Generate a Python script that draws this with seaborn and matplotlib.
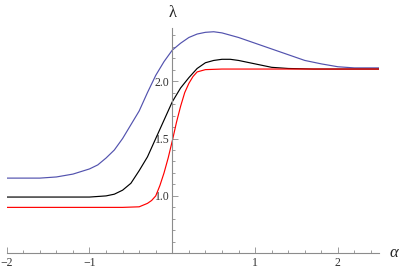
import numpy as np
import pandas as pd
import matplotlib
matplotlib.use('Agg')
import matplotlib.pyplot as plt
from matplotlib.ticker import MultipleLocator, FixedLocator
import seaborn as sns

# values
alpha_red = [-2.0, -0.6, -0.4, -0.3, -0.25, -0.2, -0.15, -0.1, -0.05, 0.0, 0.05,
             0.1, 0.15, 0.2, 0.25, 0.3, 0.4, 0.6, 1.0, 2.5]
lam_red = [0.90, 0.90, 0.905, 0.935, 0.96, 1.00, 1.09, 1.20, 1.33, 1.48, 1.64,
           1.78, 1.90, 1.98, 2.04, 2.08, 2.10, 2.105, 2.105, 2.105]

alpha_black = [-2.0, -1.0, -0.8, -0.7, -0.6, -0.5, -0.4, -0.3, -0.2, -0.1, 0.0,
               0.1, 0.2, 0.3, 0.4, 0.5, 0.6, 0.7, 0.8, 0.9, 1.0, 1.1, 1.2, 1.4,
               1.7, 2.5]
lam_black = [0.99, 0.99, 1.00, 1.015, 1.05, 1.11, 1.22, 1.34, 1.50, 1.66, 1.82,
             1.94, 2.03, 2.11, 2.16, 2.18, 2.19, 2.19, 2.18, 2.165, 2.15, 2.135,
             2.12, 2.11, 2.105, 2.105]

alpha_blue = [-2.0, -1.6, -1.4, -1.2, -1.0, -0.9, -0.8, -0.7, -0.6, -0.5, -0.4,
              -0.3, -0.2, -0.1, 0.0, 0.1, 0.2, 0.3, 0.4, 0.5, 0.6, 0.8, 1.0, 1.2,
              1.4, 1.6, 1.8, 2.0, 2.2, 2.5]
lam_blue = [1.155, 1.155, 1.165, 1.19, 1.235, 1.27, 1.33, 1.40, 1.50, 1.62, 1.74,
            1.90, 2.05, 2.17, 2.27, 2.33, 2.38, 2.41, 2.425, 2.43, 2.42, 2.38,
            2.33, 2.28, 2.23, 2.18, 2.15, 2.125, 2.115, 2.115]

x_ticks = [-2, -1, 1, 2]
x_labels = ['\u22122', '\u22121', '1', '2']
y_ticks = [1.0, 1.5, 2.0]
y_labels = ['1.0', '1.5', '2.0']

sns.set_style('white')
plt.rcParams['font.family'] = ['Liberation Serif', 'DejaVu Serif']

fig = plt.figure(figsize=(4.01, 2.72), dpi=100)
ax = fig.add_axes([6.7 / 401, 18.7 / 272, 372.6 / 401, 225 / 272])

curves = [(alpha_blue, lam_blue, '#5252ae'),
          (alpha_black, lam_black, 'black'),
          (alpha_red, lam_red, '#ff0000')]
for xs, ys, col in curves:
    df = pd.DataFrame({'alpha': xs, 'lam': ys})
    sns.lineplot(data=df, x='alpha', y='lam', color=col, lw=0.85, ax=ax,
                 estimator=None, sort=False)

ax.set_xlim(-2, 2.5)
ax.set_ylim(0.5, 2.46)
ax.set_xlabel('')
ax.set_ylabel('')

axis_col = '#8c8c8c'
for s in ['top', 'right']:
    ax.spines[s].set_visible(False)
ax.spines['left'].set_position(('data', 0))
ax.spines['left'].set_color(axis_col)
ax.spines['bottom'].set_color(axis_col)
ax.spines['left'].set_linewidth(0.8)
ax.spines['bottom'].set_linewidth(0.8)

ax.xaxis.set_major_locator(FixedLocator(x_ticks))
ax.set_xticklabels(x_labels)
ax.xaxis.set_minor_locator(MultipleLocator(0.2))
ax.yaxis.set_major_locator(FixedLocator(y_ticks))
ax.set_yticklabels(y_labels)
ax.yaxis.set_minor_locator(MultipleLocator(0.1))

# seaborn's white style switches tick marks off, turn them back on
ax.tick_params(which='both', bottom=True, left=True, direction='in',
               color=axis_col, width=0.6, labelsize=8.5, labelcolor='#333333')
ax.tick_params(which='major', length=4, pad=3)
ax.tick_params(which='minor', length=2.2)
ax.tick_params(axis='y', which='major', pad=2)

ax.text(0, 2.52, '\u03bb', ha='center', va='bottom', fontsize=12,
        transform=ax.transData, clip_on=False)
ax.text(2.62, 0.5, '\u03b1', ha='left', va='center', fontsize=12,
        style='italic', transform=ax.transData, clip_on=False)

fig.savefig('out.png', dpi=100)
